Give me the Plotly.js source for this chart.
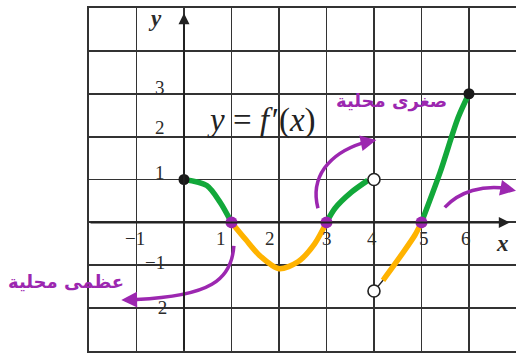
<!DOCTYPE html>
<html>
<head>
<meta charset="utf-8">
<script src="https://cdn.plot.ly/plotly-3.0.1.min.js"></script>
<style>
  html, body { margin: 0; padding: 0; background: #fff; }
  #chart { width: 516px; height: 354px; }
</style>
</head>
<body>
<div id="chart"></div>
<script>
// Graph of f'(x), split into its continuous pieces
const piece1X = [0, 0.48, 0.76, 1];
const piece1Y = [1, 0.86, 0.47, 0];
const piece2X = [1, 1.3, 1.6, 2.0, 2.4, 2.75, 3];
const piece2Y = [0, -0.4, -0.78, -1.08, -0.92, -0.5, 0];
const piece3X = [3, 3.18, 3.52, 3.87, 4];
const piece3Y = [0, 0.33, 0.7, 0.98, 1];
const piece4X = [4, 4.19, 4.57, 4.86, 5];
const piece4Y = [-1.6, -1.35, -0.77, -0.3, 0];
const piece5X = [5, 5.39, 5.77, 6];
const piece5Y = [0, 1.16, 2.44, 3];

// Endpoints: filled (included) and open (excluded)
const closedX = [0, 6];
const closedY = [1, 3];
const openX = [4, 4];
const openY = [1, -1.6];

// Critical points where f'(x) = 0
const zeroX = [1, 3, 5];
const zeroY = [0, 0, 0];

// Axis tick labels
const xTickVals = [-1, 1, 2, 3, 4, 5, 6];
const xTickText = ['\u22121', '1', '2', '3', '4', '5', '6'];
const yTickVals = [3, 2, 1, -1, -2];
const yTickText = ['3', '2', '1', '\u22121', '\u22122'];

// Hand-written notes
const noteMin = 'صغرى محلية';
const noteMax = 'عظمى محلية';
const curveLabel = '<i>y</i> = <i>f</i>\u200a\u2032(<i>x</i>)';

const GREEN = '#12a83a';
const ORANGE = '#ffb300';
const PURPLE = '#9c27b0';
const INK = '#2b2b2b';
const SERIF = 'Liberation Serif, Times New Roman, serif';

function thin(x, y) {
  return { x, y, mode: 'lines', type: 'scatter', hoverinfo: 'skip',
    line: { color: '#222', width: 1.3, shape: 'spline', smoothing: 0.8 } };
}
function thick(x, y, color) {
  return { x, y, mode: 'lines', type: 'scatter', hoverinfo: 'skip',
    line: { color, width: 5.5, shape: 'spline', smoothing: 0.8 } };
}

const traces = [
  thin(piece1X, piece1Y), thin(piece2X, piece2Y), thin(piece3X, piece3Y),
  thin(piece4X, piece4Y), thin(piece5X, piece5Y),
  thick(piece1X, piece1Y, GREEN),
  thick(piece2X, piece2Y, ORANGE),
  thick(piece3X.slice(0, 4), piece3Y.slice(0, 4), GREEN),
  thick(piece4X.slice(1), piece4Y.slice(1), ORANGE),
  thick(piece5X, piece5Y, GREEN),
  { x: closedX, y: closedY, mode: 'markers', type: 'scatter',
    marker: { color: '#1a1a1a', size: 11 } },
  { x: openX, y: openY, mode: 'markers', type: 'scatter',
    marker: { color: '#fff', size: 12, line: { color: '#222', width: 1.6 } } },
  { x: zeroX, y: zeroY, mode: 'markers', type: 'scatter',
    marker: { color: PURPLE, size: 12 } }
];

const annotations = [];

// x tick labels, nudged the way the printed figure places them
const xShift = [-2, -10, -9, 1, -2, 3, -3];
xTickVals.forEach((v, i) => annotations.push({
  x: v, y: 0, xref: 'x', yref: 'y', text: xTickText[i], showarrow: false,
  xshift: xShift[i], yshift: -16, font: { family: SERIF, size: 19, color: INK }
}));
const yShiftT = [6, 9, 7, 3, 1];
const xShiftT = [-24, -24, -24, -29, -27];
yTickVals.forEach((v, i) => annotations.push({
  x: 0, y: v, xref: 'x', yref: 'y', text: yTickText[i], showarrow: false,
  xshift: xShiftT[i], yshift: yShiftT[i], font: { family: SERIF, size: 19, color: INK }
}));

// axis names
annotations.push({ x: 0, y: 4.75, xref: 'x', yref: 'y', text: '<b><i>y</i></b>',
  showarrow: false, xshift: -29, font: { family: SERIF, size: 23, color: INK } });
annotations.push({ x: 6.82, y: 0, xref: 'x', yref: 'y', text: '<b><i>x</i></b>',
  showarrow: false, xshift: -5, yshift: -21, font: { family: SERIF, size: 23, color: INK } });

// axes drawn as arrows
annotations.push({ x: 6.86, y: 0, ax: -2, ay: 0, xref: 'x', yref: 'y', axref: 'x', ayref: 'y',
  text: '', showarrow: true, arrowhead: 2, arrowsize: 1.1, arrowwidth: 2, arrowcolor: '#222' });
annotations.push({ x: 0, y: 4.88, ax: 0, ay: -3, xref: 'x', yref: 'y', axref: 'x', ayref: 'y',
  text: '', showarrow: true, arrowhead: 2, arrowsize: 1.1, arrowwidth: 2, arrowcolor: '#222' });

// curve label
annotations.push({ x: 1.64, y: 2.37, xref: 'x', yref: 'y', text: curveLabel, showarrow: false,
  font: { family: SERIF, size: 33, color: '#222' } });

// purple notes
annotations.push({ x: 3.15, y: 2.84, xref: 'x', yref: 'y', xanchor: 'left', text: '<b>' + noteMin + '</b>',
  showarrow: false, font: { family: 'DejaVu Sans', size: 18, color: PURPLE } });
annotations.push({ x: -0.195, y: 0.165, xref: 'paper', yref: 'paper', xanchor: 'left', text: '<b>' + noteMax + '</b>',
  showarrow: false, font: { family: 'DejaVu Sans', size: 18, color: PURPLE } });

// arrow heads for the hand-drawn arrows
[[-1.32, -1.81, -0.95, -1.8], [4.05, 1.92, 3.7, 1.84], [6.99, 0.74, 6.75, 0.79]].forEach(a =>
  annotations.push({ x: a[0], y: a[1], ax: a[2], ay: a[3], xref: 'x', yref: 'y', axref: 'x', ayref: 'y',
    text: '', showarrow: true, arrowhead: 2, arrowsize: 0.9, arrowwidth: 3.5, arrowcolor: PURPLE }));

const arrowLine = { color: PURPLE, width: 3.5 };
const shapes = [
  { type: 'path', xref: 'x', yref: 'y', line: arrowLine,
    path: 'M 1.05 -0.55 C 1.0 -1.35, 0.55 -1.72, -1.0 -1.8' },
  { type: 'path', xref: 'x', yref: 'y', line: arrowLine,
    path: 'M 2.82 0.33 C 2.65 1.05, 3.05 1.6, 3.75 1.85' },
  { type: 'path', xref: 'x', yref: 'y', line: arrowLine,
    path: 'M 5.49 0.35 C 5.8 0.72, 6.3 0.88, 6.8 0.79' }
];

const layout = {
  width: 516, height: 354,
  margin: { l: 89, r: 0, t: 8, b: 3 },
  paper_bgcolor: '#fff', plot_bgcolor: '#fff',
  showlegend: false,
  xaxis: { range: [-2, 6.99], dtick: 1, tick0: 0, showgrid: true, gridcolor: '#333',
    gridwidth: 1.8, zeroline: false, showticklabels: false, ticks: '',
    showline: true, mirror: true, linecolor: '#333', linewidth: 2, fixedrange: true },
  yaxis: { range: [-3, 5], dtick: 1, tick0: 0, showgrid: true, gridcolor: '#333',
    gridwidth: 1.8, zeroline: false, showticklabels: false, ticks: '',
    showline: true, mirror: false, linecolor: '#333', linewidth: 2, fixedrange: true },
  annotations, shapes
};

Plotly.newPlot('chart', traces, layout, { staticPlot: true, displayModeBar: false });
</script>
</body>
</html>
